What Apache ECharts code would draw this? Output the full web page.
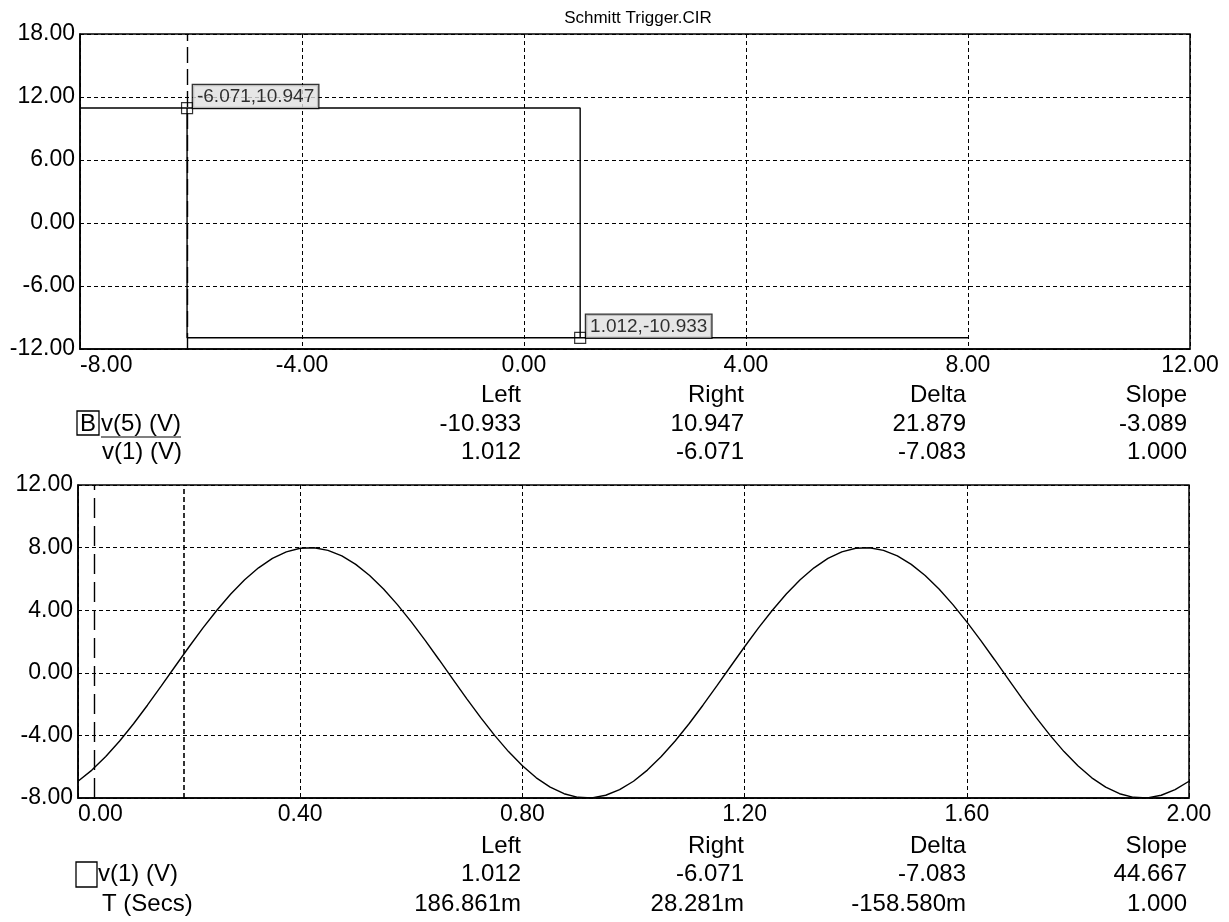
<!DOCTYPE html>
<html><head><meta charset="utf-8">
<script src="https://cdn.jsdelivr.net/npm/echarts@6/dist/echarts.min.js"></script>
<style>html,body{margin:0;padding:0;background:#fff}#c{width:1229px;height:922px}</style>
</head><body><div id="c"></div>
<script>
const chartTitle = 'Schmitt Trigger.CIR';

// ---- top plot: transfer curve v(5) vs v(1) ----
const sweepV1 = [-8.0, 1.012, 1.012, 8.0, -6.071, -6.071];
const sweepV5 = [10.947, 10.947, -10.933, -10.933, -10.933, 10.947];
const markerV1 = [-6.071, 1.012];
const markerV5 = [10.947, -10.933];
const topXTicks = [-8, -4, 0, 4, 8, 12];
const topYTicks = [-12, -6, 0, 6, 12, 18];

// ---- bottom plot: v(1) vs time ----
const timeSecs = [
  0.000,0.025,0.050,0.075,0.100,0.125,0.150,0.175,0.200,0.225,
  0.250,0.275,0.300,0.325,0.350,0.375,0.400,0.425,0.450,0.475,
  0.500,0.525,0.550,0.575,0.600,0.625,0.650,0.675,0.700,0.725,
  0.750,0.775,0.800,0.825,0.850,0.875,0.900,0.925,0.950,0.975,
  1.000,1.025,1.050,1.075,1.100,1.125,1.150,1.175,1.200,1.225,
  1.250,1.275,1.300,1.325,1.350,1.375,1.400,1.425,1.450,1.475,
  1.500,1.525,1.550,1.575,1.600,1.625,1.650,1.675,1.700,1.725,
  1.750,1.775,1.800,1.825,1.850,1.875,1.900,1.925,1.950,1.975,
  2.000];
const v1Volts = [
  -6.928,-6.217,-5.353,-4.357,-3.254,-2.071,-0.836,0.419,1.663,2.867,
  4.000,5.035,5.945,6.709,7.308,7.727,7.956,7.989,7.825,7.469,
  6.928,6.217,5.353,4.357,3.254,2.071,0.836,-0.419,-1.663,-2.867,
  -4.000,-5.035,-5.945,-6.709,-7.308,-7.727,-7.956,-7.989,-7.825,-7.469,
  -6.928,-6.217,-5.353,-4.357,-3.254,-2.071,-0.836,0.419,1.663,2.867,
  4.000,5.035,5.945,6.709,7.308,7.727,7.956,7.989,7.825,7.469,
  6.928,6.217,5.353,4.357,3.254,2.071,0.836,-0.419,-1.663,-2.867,
  -4.000,-5.035,-5.945,-6.709,-7.308,-7.727,-7.956,-7.989,-7.825,-7.469,
  -6.928];
const cursorTimes = [0.028281, 0.186861];
const botXTicks = [0, 0.4, 0.8, 1.2, 1.6, 2.0];
const botYTicks = [-8, -4, 0, 4, 8, 12];

// ---- cursor tables ----
const tableHeads = ['Left', 'Right', 'Delta', 'Slope'];
const topTableNames = ['v(5) (V)', 'v(1) (V)'];
const topTableValues = [['-10.933', '10.947', '21.879', '-3.089'], ['1.012', '-6.071', '-7.083', '1.000']];
const botTableNames = ['v(1) (V)', 'T (Secs)'];
const botTableValues = [['1.012', '-6.071', '-7.083', '44.667'], ['186.861m', '28.281m', '-158.580m', '1.000']];

const FONT = 'Liberation Sans, Arial, sans-serif';
const chart = echarts.init(document.getElementById('c'));

function xAxisCfg(ticks, gridIndex) {
  return {
    type: 'value', gridIndex, min: ticks[0], max: ticks[ticks.length - 1],
    interval: +(ticks[1] - ticks[0]).toFixed(6),
    axisLine: { show: true, onZero: false, lineStyle: { color: '#000', width: 1.5 } },
    axisTick: { show: false },
    splitLine: { show: true, lineStyle: { color: '#000', type: [4, 3], width: 1 } },
    axisLabel: { show: true, color: '#000', fontFamily: FONT, fontSize: 23, lineHeight: 23, margin: 5,
      formatter: v => v.toFixed(2), alignMinLabel: 'left', showMinLabel: true, showMaxLabel: true }
  };
}
function yAxisCfg(ticks, gridIndex) {
  return {
    type: 'value', gridIndex, min: ticks[0], max: ticks[ticks.length - 1],
    interval: ticks[1] - ticks[0],
    axisLine: { show: true, onZero: false, lineStyle: { color: '#000', width: 1.5 } },
    axisTick: { show: false },
    splitLine: { show: true, lineStyle: { color: '#000', type: [4, 3], width: 1 } },
    axisLabel: { show: true, color: '#000', fontFamily: FONT, fontSize: 23, margin: 5,
      formatter: v => v.toFixed(2), showMinLabel: true, showMaxLabel: true }
  };
}

function txt(text, x, y, align, size) {
  return { type: 'text', x: x, y: y, silent: true,
    style: { text: text, fill: '#000', font: (size || 24) + 'px ' + FONT, textAlign: align || 'right', textVerticalAlign: 'middle' } };
}

const colRight = [521, 744, 966, 1187];
const graphics = [];
graphics.push(txt(chartTitle, 638, 18, 'center', 17));
// top table
tableHeads.forEach((h, i) => graphics.push(txt(h, colRight[i], 395, 'right')));
const topRowsY = [424, 452];
topTableValues.forEach((row, r) => row.forEach((v, i) => graphics.push(txt(v, colRight[i], topRowsY[r], 'right'))));
graphics.push(txt(topTableNames[0], 101, topRowsY[0], 'left'));
graphics.push(txt(topTableNames[1], 102, topRowsY[1], 'left'));
graphics.push({ type: 'rect', silent: true, shape: { x: 77, y: 411, width: 22, height: 24 }, style: { fill: 'none', stroke: '#000', lineWidth: 1.3 } });
graphics.push(txt('B', 88, 424, 'center'));
graphics.push({ type: 'line', silent: true, shape: { x1: 101, y1: 437, x2: 181, y2: 437 }, style: { stroke: '#000', lineWidth: 1.2 } });
// bottom table
tableHeads.forEach((h, i) => graphics.push(txt(h, colRight[i], 846, 'right')));
const botRowsY = [874, 904];
botTableValues.forEach((row, r) => row.forEach((v, i) => graphics.push(txt(v, colRight[i], botRowsY[r], 'right'))));
graphics.push(txt(botTableNames[0], 98, botRowsY[0], 'left'));
graphics.push(txt(botTableNames[1], 102, botRowsY[1], 'left'));
graphics.push({ type: 'rect', silent: true, shape: { x: 76, y: 862, width: 21, height: 25 }, style: { fill: 'none', stroke: '#000', lineWidth: 1.3 } });

chart.setOption({
  animation: false,
  backgroundColor: '#fff',
  grid: [
    { left: 80, top: 34, width: 1110, height: 315, show: true, borderColor: '#000', borderWidth: 1.5, containLabel: false },
    { left: 78, top: 485, width: 1111, height: 313, show: true, borderColor: '#000', borderWidth: 1.5, containLabel: false }
  ],
  xAxis: [xAxisCfg(topXTicks, 0), xAxisCfg(botXTicks, 1)],
  yAxis: [yAxisCfg(topYTicks, 0), yAxisCfg(botYTicks, 1)],
  graphic: graphics,
  series: [
    {
      type: 'line', xAxisIndex: 0, yAxisIndex: 0, silent: true,
      data: sweepV1.map((x, i) => [x, sweepV5[i]]),
      symbol: 'none', lineStyle: { color: '#000', width: 1.4 },
      markLine: { silent: true, symbol: 'none', label: { show: false },
        lineStyle: { color: '#000', type: [16, 6], width: 1.4 },
        data: [{ xAxis: markerV1[0] }] }
    },
    {
      type: 'scatter', xAxisIndex: 0, yAxisIndex: 0, silent: true, z: 5,
      data: markerV1.map((x, i) => [x, markerV5[i]]),
      symbol: 'rect', symbolSize: 11,
      itemStyle: { color: 'rgba(255,255,255,0)', borderColor: '#000', borderWidth: 1.2 },
      label: { show: true, position: [12, 6], align: 'left', verticalAlign: 'bottom',
        formatter: p => p.value[0].toFixed(3) + ',' + p.value[1].toFixed(3),
        fontFamily: FONT, fontSize: 19, lineHeight: 20, color: '#000',
        backgroundColor: '#e0e0e0', borderColor: '#000', borderWidth: 1.3, padding: [2, 4, 1, 4] }
    },
    {
      type: 'line', xAxisIndex: 1, yAxisIndex: 1, silent: true,
      data: timeSecs.map((t, i) => [t, v1Volts[i]]),
      symbol: 'none', lineStyle: { color: '#000', width: 1.4 },
      markLine: { silent: true, symbol: 'none', label: { show: false },
        data: [
          { xAxis: cursorTimes[0], lineStyle: { color: '#000', type: [20, 8], width: 1.4 } },
          { xAxis: cursorTimes[1], lineStyle: { color: '#000', type: [5, 3], width: 1.6 } }
        ] }
    }
  ]
});
</script></body></html>
